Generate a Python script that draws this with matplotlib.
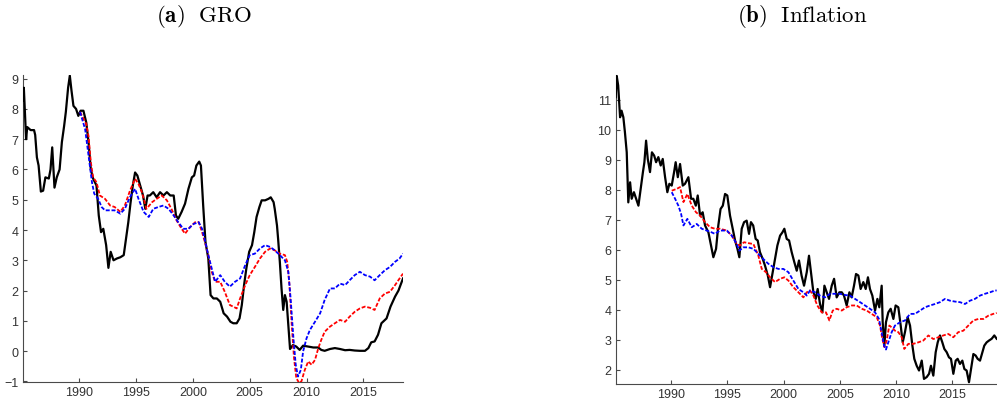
import matplotlib
matplotlib.use("Agg")
import matplotlib.pyplot as plt

# ---------------- Panel (a) GRO ----------------
gro_black_x = [1985.0, 1985.1, 1985.3, 1985.4, 1985.7, 1986.0, 1986.1, 1986.25, 1986.4, 1986.6, 1986.8, 1987.0,
               1987.3, 1987.45, 1987.6, 1987.8, 1988.0, 1988.25, 1988.45, 1988.65, 1988.8, 1989.0, 1989.15,
               1989.3, 1989.47, 1989.7, 1989.9, 1990.1, 1990.35, 1990.6, 1990.8, 1991.0, 1991.2, 1991.5,
               1991.7, 1991.9, 1992.1, 1992.35, 1992.55, 1992.75, 1993.0, 1993.3, 1993.6, 1993.9, 1994.1,
               1994.3, 1994.5, 1994.7, 1994.9, 1995.1, 1995.35, 1995.6, 1995.8, 1996.0, 1996.2, 1996.5,
               1996.8, 1997.1, 1997.4, 1997.7, 1998.0, 1998.3, 1998.5, 1998.7, 1999.0, 1999.3, 1999.6,
               1999.9, 2000.1, 2000.3, 2000.55, 2000.7, 2000.9, 2001.1, 2001.35, 2001.55, 2001.8, 2002.1,
               2002.4, 2002.7, 2003.0, 2003.3, 2003.55, 2003.85, 2004.1, 2004.3, 2004.5, 2004.7, 2004.95,
               2005.2, 2005.4, 2005.6, 2005.85, 2006.05, 2006.35, 2006.65, 2006.85, 2007.1, 2007.2, 2007.4,
               2007.5, 2007.65, 2007.8, 2007.95, 2008.1, 2008.25, 2008.4, 2008.55, 2008.8, 2009.1, 2009.4,
               2009.7, 2010.15, 2010.6, 2011.04, 2011.3, 2011.6, 2012.07, 2012.5, 2012.95, 2013.4, 2013.8,
               2014.25, 2014.7, 2015.15, 2015.45, 2015.7, 2016.0, 2016.3, 2016.6, 2017.05, 2017.4, 2017.8,
               2018.1, 2018.5]
gro_black_y = [8.27, 8.7, 7.0, 7.4, 7.3, 7.3, 7.14, 6.4, 6.13, 5.27, 5.3, 5.74,
               5.7, 6.0, 6.73, 5.4, 5.74, 6.0, 6.9, 7.44, 7.9, 8.7, 9.1,
               8.6, 8.1, 8.0, 7.77, 7.94, 7.94, 7.55, 6.9, 6.0, 5.7, 5.47,
               4.48, 3.93, 4.04, 3.5, 2.75, 3.28, 3.0, 3.06, 3.1, 3.17, 3.7,
               4.25, 4.9, 5.47, 5.9, 5.8, 5.47, 5.14, 4.7, 5.14, 5.14, 5.25,
               5.08, 5.25, 5.14, 5.25, 5.14, 5.14, 4.48, 4.37, 4.6, 4.87, 5.36,
               5.74, 5.8, 6.13, 6.26, 6.13, 4.8, 3.6, 3.06, 1.85, 1.74, 1.74,
               1.63, 1.25, 1.14, 0.97, 0.92, 0.92, 1.08, 1.52, 2.18, 2.73, 3.28,
               3.5, 3.93, 4.43, 4.76, 4.98, 4.98, 5.03, 5.08, 4.92, 4.7, 4.15,
               3.7, 2.95, 2.07, 1.36, 1.85, 1.63, 0.86, 0.07, 0.2, 0.15, 0.04,
               0.18, 0.15, 0.12, 0.12, 0.04, 0.01, 0.07, 0.1, 0.07, 0.03, 0.04,
               0.02, 0.01, 0.01, 0.1, 0.29, 0.32, 0.54, 0.92, 1.08, 1.47, 1.8,
               2.0, 2.4]

gro_red_x = [1990.05, 1990.6, 1990.8, 1991.0, 1991.2, 1991.5, 1991.8, 1992.25, 1992.7, 1993.1, 1993.6,
             1994.0, 1994.45, 1994.9, 1995.2, 1995.5, 1995.9, 1996.4, 1996.8, 1997.25, 1997.7, 1998.1,
             1998.55, 1999.0, 1999.3, 1999.75, 2000.2, 2000.5, 2000.8, 2001.05, 2001.35, 2001.65, 2001.95,
             2002.4, 2002.8, 2003.25, 2003.55, 2003.85, 2004.15, 2004.6, 2005.0, 2005.45, 2005.9, 2006.35,
             2006.8, 2007.2, 2007.65, 2008.1, 2008.3, 2008.5, 2008.7, 2008.9, 2009.1, 2009.35, 2009.55,
             2009.85, 2010.15, 2010.45, 2010.75, 2011.04, 2011.3, 2011.6, 2012.07, 2012.5, 2012.95, 2013.4,
             2013.8, 2014.25, 2014.7, 2015.15, 2015.6, 2016.0, 2016.45, 2016.9, 2017.35, 2017.8, 2018.2,
             2018.5]
gro_red_y = [7.9, 7.5, 7.1, 6.24, 5.74, 5.58, 5.14, 5.03, 4.81, 4.76, 4.6,
             4.81, 5.3, 5.69, 5.52, 5.25, 4.7, 4.92, 5.03, 5.14, 4.98, 4.7,
             4.32, 4.04, 3.88, 4.1, 4.26, 4.26, 3.93, 3.6, 3.17, 2.62, 2.29,
             2.29, 1.96, 1.52, 1.47, 1.41, 1.74, 2.18, 2.51, 2.78, 3.06, 3.28,
             3.39, 3.33, 3.22, 3.17, 2.95, 2.18, 0.86, -0.23, -0.89, -1.05, -1.0,
             -0.62, -0.34, -0.45, -0.29, 0.1, 0.37, 0.64, 0.81, 0.92, 1.03, 0.97,
             1.14, 1.3, 1.41, 1.47, 1.43, 1.36, 1.74, 1.9, 1.96, 2.18, 2.4,
             2.56]

gro_blue_x = [1990.05, 1990.5, 1990.8, 1991.1, 1991.3, 1991.65, 1991.95, 1992.25, 1992.7, 1993.1, 1993.6,
              1994.0, 1994.45, 1994.9, 1995.2, 1995.65, 1996.1, 1996.5, 1996.95, 1997.4, 1997.85, 1998.3,
              1998.7, 1999.15, 1999.6, 2000.05, 2000.5, 2000.8, 2001.05, 2001.35, 2001.65, 2001.95, 2002.4,
              2002.8, 2003.25, 2003.7, 2004.15, 2004.6, 2005.0, 2005.45, 2005.9, 2006.35, 2006.8, 2007.2,
              2007.65, 2008.1, 2008.4, 2008.6, 2008.85, 2009.05, 2009.25, 2009.5, 2009.7, 2010.0, 2010.3,
              2010.75, 2011.2, 2011.6, 2012.07, 2012.5, 2012.95, 2013.4, 2013.8, 2014.25, 2014.7, 2015.15,
              2015.6, 2016.0, 2016.45, 2016.9, 2017.35, 2017.8, 2018.2, 2018.5]
gro_blue_y = [7.9, 7.33, 6.46, 5.58, 5.2, 5.03, 4.76, 4.65, 4.65, 4.65, 4.54,
              4.7, 5.09, 5.36, 5.03, 4.6, 4.43, 4.7, 4.76, 4.81, 4.7, 4.48,
              4.26, 4.04, 4.04, 4.2, 4.26, 4.04, 3.66, 3.17, 2.73, 2.29, 2.51,
              2.29, 2.13, 2.29, 2.4, 2.84, 3.17, 3.22, 3.39, 3.5, 3.44, 3.33,
              3.17, 3.0, 2.62, 1.74, 0.42, -0.45, -0.84, -0.62, -0.01, 0.42, 0.7,
              0.97, 1.25, 1.69, 2.07, 2.07, 2.23, 2.18, 2.34, 2.51, 2.62, 2.51,
              2.46, 2.34, 2.51, 2.67, 2.78, 2.95, 3.06, 3.22]

# ---------------- Panel (b) Inflation ----------------
inf_black_x = [1985.08, 1985.17, 1985.3, 1985.47, 1985.6, 1985.76, 1985.9, 1986.06, 1986.2, 1986.36, 1986.5,
               1986.7, 1986.9, 1987.1, 1987.3, 1987.5, 1987.63, 1987.78, 1987.93, 1988.13, 1988.3, 1988.5,
               1988.67, 1988.87, 1989.08, 1989.26, 1989.47, 1989.67, 1989.85, 1990.06, 1990.27, 1990.41,
               1990.6, 1990.8, 1991.04, 1991.24, 1991.54, 1991.78, 1991.98, 1992.2, 1992.37, 1992.58,
               1992.81, 1993.02, 1993.32, 1993.55, 1993.76, 1994.0, 1994.2, 1994.4, 1994.6, 1994.8, 1995.0,
               1995.24, 1995.48, 1995.69, 1995.9, 1996.07, 1996.28, 1996.49, 1996.72, 1996.93, 1997.1,
               1997.3, 1997.52, 1997.7, 1997.9, 1998.15, 1998.35, 1998.6, 1998.8, 1999.03, 1999.24, 1999.45,
               1999.69, 1999.9, 2000.07, 2000.28, 2000.49, 2000.72, 2000.96, 2001.17, 2001.37, 2001.6,
               2001.82, 2002.06, 2002.26, 2002.44, 2002.65, 2002.86, 2003.03, 2003.24, 2003.45, 2003.63,
               2003.83, 2004.04, 2004.28, 2004.49, 2004.72, 2004.96, 2005.17, 2005.37, 2005.61, 2005.85,
               2006.05, 2006.26, 2006.44, 2006.65, 2006.85, 2007.09, 2007.3, 2007.5, 2007.68, 2007.89,
               2008.13, 2008.34, 2008.51, 2008.72, 2008.81, 2008.96, 2009.1, 2009.31, 2009.52, 2009.76,
               2009.96, 2010.2, 2010.41, 2010.59, 2010.79, 2011.03, 2011.24, 2011.45, 2011.62, 2011.83,
               2012.04, 2012.28, 2012.48, 2012.72, 2012.93, 2013.1, 2013.31, 2013.52, 2013.7, 2013.9,
               2014.11, 2014.29, 2014.5, 2014.7, 2014.88, 2015.09, 2015.3, 2015.47, 2015.68, 2015.89,
               2016.07, 2016.27, 2016.48, 2016.66, 2016.87, 2017.07, 2017.25, 2017.46, 2017.67, 2017.84,
               2018.05, 2018.26, 2018.5, 2018.73, 2018.94]
inf_black_y = [11.09, 11.8, 11.48, 10.42, 10.64, 10.42, 9.92, 9.25, 7.58, 8.25, 7.7,
               7.92, 7.7, 7.47, 8.03, 8.59, 8.92, 9.64, 9.03, 8.59, 9.25, 9.14,
               8.92, 9.09, 8.81, 9.03, 8.42, 7.92, 8.2, 8.14, 8.59, 8.92,
               8.42, 8.86, 8.14, 8.2, 8.42, 7.7, 7.7, 7.47, 7.81, 7.14,
               7.25, 6.81, 6.58, 6.14, 5.75, 6.03, 6.81, 7.36, 7.47, 7.86, 7.81,
               7.14, 6.7, 6.31, 6.03, 5.75, 6.7, 6.92, 6.97, 6.53, 6.92,
               6.81, 6.36, 6.31, 5.92, 5.69, 5.47, 5.14, 4.75, 5.25, 5.69, 6.14,
               6.47, 6.58, 6.7, 6.36, 6.31, 5.92, 5.58, 5.3, 5.64, 5.14,
               4.8, 5.25, 5.8, 5.25, 4.58, 4.36, 4.69, 4.19, 3.91, 4.8,
               4.58, 4.36, 4.8, 5.03, 4.41, 4.58, 4.58, 4.47, 4.14, 4.58,
               4.41, 4.8, 5.19, 5.14, 4.69, 4.92, 4.69, 5.08, 4.69, 4.47,
               3.97, 4.36, 4.08, 4.8, 3.58, 2.8, 3.58, 3.91, 4.03, 3.69,
               4.14, 4.08, 3.47, 2.91, 3.25, 3.75, 3.47, 2.8, 2.36, 2.13,
               1.97, 2.3, 1.69, 1.75, 1.86, 2.13, 1.8, 2.58, 2.91, 3.14,
               2.91, 2.69, 2.58, 2.41, 2.36, 1.86, 2.3, 2.36, 2.19, 2.3,
               2.02, 1.97, 1.58, 2.02, 2.52, 2.47, 2.36, 2.3, 2.58, 2.8,
               2.91, 2.97, 3.03, 3.14, 3.03]

inf_red_x = [1990.06, 1990.5, 1990.8, 1991.1, 1991.45, 1991.84, 1992.22, 1992.58, 1993.02, 1993.47, 1993.9,
             1994.35, 1994.95, 1995.4, 1995.84, 1996.13, 1996.49, 1996.87, 1997.32, 1997.76, 1998.06,
             1998.44, 1998.8, 1999.24, 1999.69, 2000.07, 2000.43, 2000.87, 2001.32, 2001.76, 2002.06,
             2002.35, 2002.65, 2003.0, 2003.39, 2003.77, 2004.07, 2004.37, 2004.72, 2005.17, 2005.61,
             2006.05, 2006.5, 2006.94, 2007.39, 2007.83, 2008.28, 2008.57, 2008.78, 2008.96, 2009.16,
             2009.4, 2009.61, 2009.9, 2010.2, 2010.5, 2010.73, 2011.09, 2011.53, 2011.98, 2012.42, 2012.87,
             2013.31, 2013.76, 2014.2, 2014.64, 2015.09, 2015.53, 2015.98, 2016.42, 2016.87, 2017.31,
             2017.76, 2018.2, 2018.64, 2018.94]
inf_red_y = [7.97, 8.03, 8.09, 7.59, 7.86, 7.47, 7.25, 7.14, 6.92, 6.75, 6.7,
             6.7, 6.64, 6.47, 6.19, 6.14, 6.25, 6.22, 6.19, 5.8, 5.36,
             5.25, 5.08, 4.92, 5.03, 5.08, 4.97, 4.75, 4.58, 4.41, 4.58,
             4.64, 4.47, 4.14, 3.91, 3.91, 3.64, 3.97, 4.03, 3.97, 4.08,
             4.14, 4.14, 4.03, 3.97, 3.86, 3.75, 3.47, 3.02, 2.75, 2.97,
             3.47, 3.41, 3.3, 3.25, 3.08, 2.69, 2.86, 2.86, 2.91, 2.97, 3.14,
             3.02, 3.08, 3.14, 3.19, 3.08, 3.25, 3.3, 3.47, 3.64, 3.69,
             3.69, 3.8, 3.86, 3.89]

inf_blue_x = [1990.06, 1990.36, 1990.65, 1990.89, 1991.1, 1991.45, 1991.84, 1992.28, 1992.73, 1993.17, 1993.61,
              1993.9, 1994.35, 1994.95, 1995.4, 1995.84, 1996.07, 1996.43, 1996.87, 1997.32, 1997.76, 1998.2,
              1998.65, 1999.09, 1999.54, 1999.98, 2000.43, 2000.87, 2001.32, 2001.76, 2002.06, 2002.35,
              2002.8, 2003.24, 2003.68, 2004.13, 2004.57, 2005.02, 2005.46, 2005.91, 2006.35, 2006.8,
              2007.24, 2007.68, 2008.13, 2008.48, 2008.72, 2008.93, 2009.1, 2009.31, 2009.61, 2009.9,
              2010.35, 2010.79, 2011.24, 2011.68, 2012.13, 2012.57, 2013.02, 2013.46, 2013.9, 2014.35,
              2014.79, 2015.24, 2015.68, 2016.13, 2016.57, 2017.01, 2017.46, 2017.9, 2018.35, 2018.79,
              2018.94]
inf_blue_y = [7.92, 7.7, 7.47, 7.2, 6.81, 7.03, 6.75, 6.86, 6.7, 6.64, 6.58,
              6.53, 6.64, 6.64, 6.47, 6.19, 5.97, 6.08, 6.08, 6.03, 5.86, 5.69,
              5.53, 5.42, 5.36, 5.36, 5.25, 4.97, 4.69, 4.58, 4.47, 4.64,
              4.58, 4.47, 4.41, 4.53, 4.53, 4.53, 4.49, 4.47, 4.36, 4.25,
              4.14, 4.03, 3.91, 3.69, 3.25, 2.8, 2.67, 2.91, 3.25, 3.47,
              3.58, 3.64, 3.86, 3.86, 3.97, 4.08, 4.14, 4.19, 4.25, 4.36,
              4.3, 4.27, 4.25, 4.19, 4.3, 4.36, 4.47, 4.53, 4.58, 4.64,
              4.64]

x_ticks = [1990, 1995, 2000, 2005, 2010, 2015]
gro_yticks = [-1, 0, 1, 2, 3, 4, 5, 6, 7, 8, 9]
inf_yticks = [2, 3, 4, 5, 6, 7, 8, 9, 10, 11]

plt.rcParams['font.family'] = ['Liberation Sans', 'DejaVu Sans']
plt.rcParams['mathtext.fontset'] = 'cm'

W, H = 997, 406
fig = plt.figure(figsize=(W / 100, H / 100), dpi=100)

axis_col = '#4a4a4a'
dash = (0, (2.2, 1.0))


def style(ax, yticks):
    for s in ['top', 'right']:
        ax.spines[s].set_visible(False)
    for s in ['left', 'bottom']:
        ax.spines[s].set_color(axis_col)
        ax.spines[s].set_linewidth(0.8)
    ax.set_xticks(x_ticks)
    ax.set_yticks(yticks)
    ax.tick_params(direction='in', length=3, width=0.8, colors=axis_col,
                   labelsize=9, labelcolor='#333333', pad=3)


ax1 = fig.add_axes([22.7 / W, 23 / H, (403 - 22.7) / W, (383 - 76) / H])
ax1.plot(gro_black_x, gro_black_y, color='black', lw=1.6, zorder=3)
ax1.plot(gro_red_x, gro_red_y, color='#ff0000', lw=1.3, ls=dash, zorder=4)
ax1.plot(gro_blue_x, gro_blue_y, color='#0000ff', lw=1.3, ls=dash, zorder=5)
ax1.set_xlim(1985.0, 2018.5)
ax1.set_ylim(-1.02, 9.12)
style(ax1, gro_yticks)

ax2 = fig.add_axes([615.7 / W, 21 / H, (997 - 615.7) / W, (385 - 76) / H])
ax2.plot(inf_black_x, inf_black_y, color='black', lw=1.6, zorder=3)
ax2.plot(inf_red_x, inf_red_y, color='#ff0000', lw=1.3, ls=dash, zorder=4)
ax2.plot(inf_blue_x, inf_blue_y, color='#0000ff', lw=1.3, ls=dash, zorder=5)
ax2.set_xlim(1985.08, 2018.97)
ax2.set_ylim(1.52, 11.83)
style(ax2, inf_yticks)

fig.text(204 / W, 1 - 16 / H, r'$\mathbf{(a)}\ \ \mathrm{GRO}$', ha='center', va='center', fontsize=16.5)
fig.text(802 / W, 1 - 16 / H, r'$\mathbf{(b)}\ \ \mathrm{Inflation}$', ha='center', va='center', fontsize=16.5)

fig.savefig('out.png', dpi=100)
